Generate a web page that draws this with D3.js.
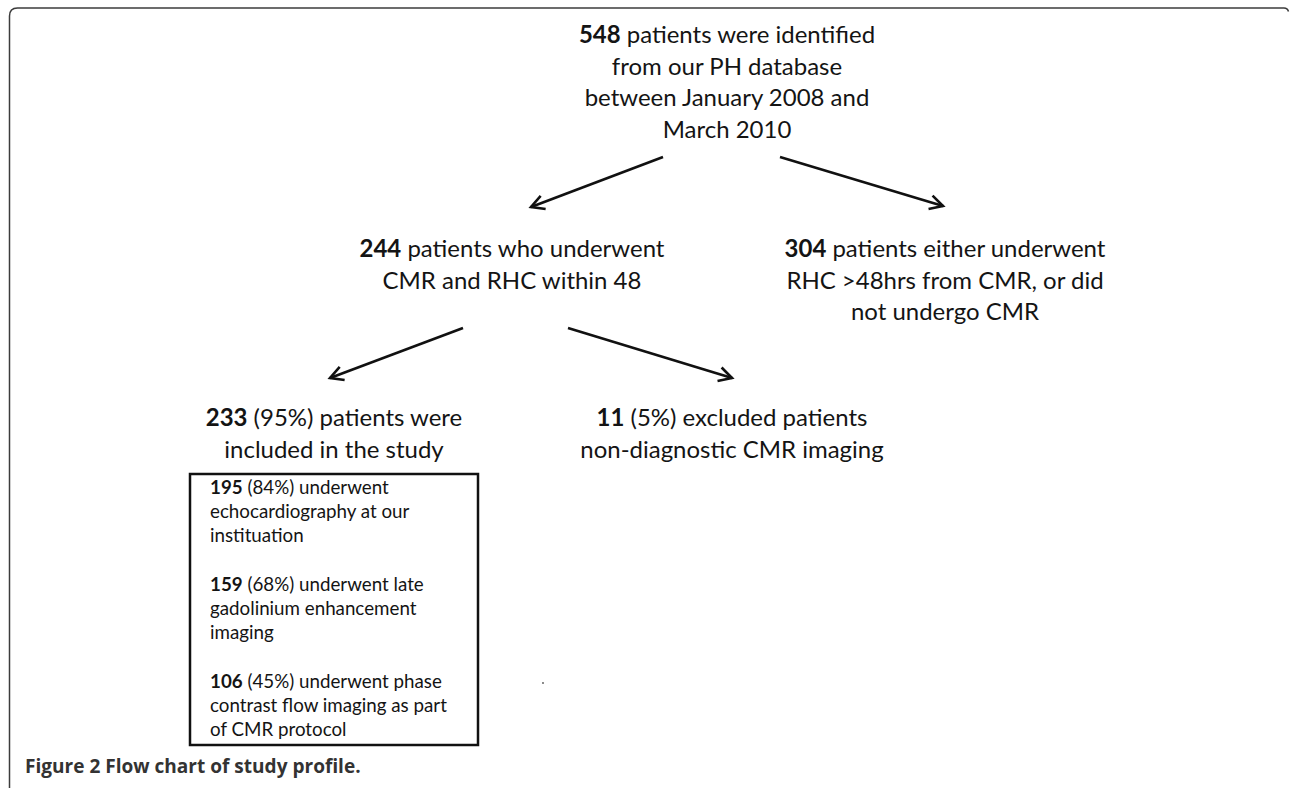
<!DOCTYPE html>
<html>
<head>
<meta charset="utf-8">
<script src="https://cdn.jsdelivr.net/npm/d3@7"></script>
<style>
  body { margin: 0; background: #fff; }
  svg { display: block; }
  text { white-space: pre; }
</style>
</head>
<body>
<div id="chart"></div>
<script>
// node texts: [bold part, regular part] per line
const screenedLines = [
  ["548", " patients were identified"],
  ["", "from our PH database"],
  ["", "between January 2008 and"],
  ["", "March 2010"],
];
const cmrRhcLines = [
  ["244", " patients who underwent"],
  ["", "CMR and RHC within 48"],
];
const notEligibleLines = [
  ["304", " patients either underwent"],
  ["", "RHC >48hrs from CMR, or did"],
  ["", "not undergo CMR"],
];
const includedLines = [
  ["233", " (95%) patients were"],
  ["", "included in the study"],
];
const excludedLines = [
  ["11", " (5%) excluded patients"],
  ["", "non-diagnostic CMR imaging"],
];
// sub groups listed in the box under the included patients
const subgroupLines = [
  [["195", " (84%) underwent"], ["", "echocardiography at our"], ["", "instituation"]],
  [["159", " (68%) underwent late"], ["", "gadolinium enhancement"], ["", "imaging"]],
  [["106", " (45%) underwent phase"], ["", "contrast flow imaging as part"], ["", "of CMR protocol"]],
];
// arrows between nodes
const flows = [
  ["screened", "cmrRhc"],
  ["screened", "notEligible"],
  ["cmrRhc", "included"],
  ["cmrRhc", "excluded"],
];
const captionParts = ["Figure 2", " Flow chart of study profile."];

// ---- layout (positions only) ----
var w = 1290;
var h = 788;
const nodeLayout = {
  screened: { x: 727, y: 43 },
  cmrRhc: { x: 512, y: 257 },
  notEligible: { x: 945, y: 257 },
  included: { x: 334, y: 426 },
  excluded: { x: 732, y: 426 },
};
const arrowLayout = {
  "screened-cmrRhc": [[663, 157], [531, 207]],
  "screened-notEligible": [[780, 157], [943, 206]],
  "cmrRhc-included": [[463, 328], [330, 378]],
  "cmrRhc-excluded": [[568, 328], [732, 378]],
};
const nodeText = {
  screened: screenedLines,
  cmrRhc: cmrRhcLines,
  notEligible: notEligibleLines,
  included: includedLines,
  excluded: excludedLines,
};
const box = { x0: 190, x1: 478, y0: 474, y1: 745, textX: 210, firstY: 494 };
var lineHeight = 31.7;
var boxLineHeight = 24.2;
// widths of a few lines in the original, used to size the fonts
var nodeTextWidth = 271; // "11 (5%) excluded patients"
var boxTextWidth = 237; // "contrast flow imaging as part"
var captionWidth = 336;

const svg = d3
  .select("#chart")
  .append("svg")
  .attr("width", w)
  .attr("height", h);

// arrow head (open V)
svg
  .append("defs")
  .append("marker")
  .attr("id", "head")
  .attr("markerUnits", "userSpaceOnUse")
  .attr("viewBox", "-15 -9 18 18")
  .attr("markerWidth", 18)
  .attr("markerHeight", 18)
  .attr("refX", 0)
  .attr("refY", 0)
  .attr("orient", "auto")
  .append("path")
  .attr("d", "M-13,-7L0,0L-13,7")
  .attr("fill", "none")
  .attr("stroke", "#111")
  .attr("stroke-width", 2.6)
  .attr("stroke-linejoin", "miter");

// outer frame (rounded top-left corner)
svg
  .append("path")
  .attr("d", "M9.5,788V16Q9.5,8 17.5,8H1284Q1287.5,8 1288.5,11.5")
  .attr("fill", "none")
  .attr("stroke", "#3c3c3c")
  .attr("stroke-width", 1.5);

// helper that writes one line with a bold lead
function writeLine(g, parts, x, y, anchor) {
  const t = g
    .append("text")
    .attr("x", x)
    .attr("y", y)
    .attr("text-anchor", anchor)
    .attr("fill", "#141414");
  if (parts[0] !== "") {
    t.append("tspan").attr("font-weight", "bold").text(parts[0]);
  }
  t.append("tspan").text(parts[1]);
  return t;
}

// scale the font of a group so that one line gets the measured width
function fitFont(g, refText, width) {
  var base = 20;
  g.attr("font-size", base);
  var len = refText.node().getComputedTextLength();
  g.attr("font-size", (base * width) / len);
}

// node texts
const nodesG = svg
  .append("g")
  .attr("class", "nodes")
  .attr("font-family", "Lato, 'Open Sans', sans-serif");
var nodeRef;
Object.keys(nodeText).forEach(function (key) {
  const pos = nodeLayout[key];
  const y = d3
    .scaleLinear()
    .domain([0, 1])
    .range([pos.y, pos.y + lineHeight]);
  nodeText[key].forEach(function (parts, i) {
    const t = writeLine(nodesG, parts, pos.x, y(i), "middle");
    if (key === "excluded" && i === 0) nodeRef = t;
  });
});
fitFont(nodesG, nodeRef, nodeTextWidth);

// arrows
const line = d3.line();
svg
  .append("g")
  .attr("class", "arrows")
  .selectAll("path")
  .data(flows)
  .enter()
  .append("path")
  .attr("d", function (d) {
    return line(arrowLayout[d[0] + "-" + d[1]]);
  })
  .attr("fill", "none")
  .attr("stroke", "#111")
  .attr("stroke-width", 2.6)
  .attr("marker-end", "url(#head)");

// box with sub groups
const boxG = svg
  .append("g")
  .attr("class", "subgroups")
  .attr("font-family", "Lato, 'Open Sans', sans-serif");
boxG
  .append("rect")
  .attr("x", box.x0)
  .attr("y", box.y0)
  .attr("width", box.x1 - box.x0)
  .attr("height", box.y1 - box.y0)
  .attr("fill", "none")
  .attr("stroke", "#111")
  .attr("stroke-width", 2.5);

const by = d3
  .scaleLinear()
  .domain([0, 1])
  .range([box.firstY, box.firstY + boxLineHeight]);
var boxRef;
subgroupLines.forEach(function (group, gi) {
  group.forEach(function (parts, li) {
    // one empty line between groups
    const t = writeLine(boxG, parts, box.textX, by(gi * 4 + li), "start");
    if (gi === 2 && li === 1) boxRef = t;
  });
});
fitFont(boxG, boxRef, boxTextWidth);

// stray dot in the original figure
svg
  .append("circle")
  .attr("cx", 543)
  .attr("cy", 683)
  .attr("r", 0.9)
  .attr("fill", "#555");

// caption
const capG = svg
  .append("g")
  .attr("font-family", "'Open Sans', sans-serif")
  .attr("font-weight", "bold");
const cap = capG
  .append("text")
  .attr("x", 25)
  .attr("y", 773)
  .attr("fill", "#333");
cap.append("tspan").text(captionParts[0]);
cap.append("tspan").text(captionParts[1]);
fitFont(capG, cap, captionWidth);
</script>
</body>
</html>
